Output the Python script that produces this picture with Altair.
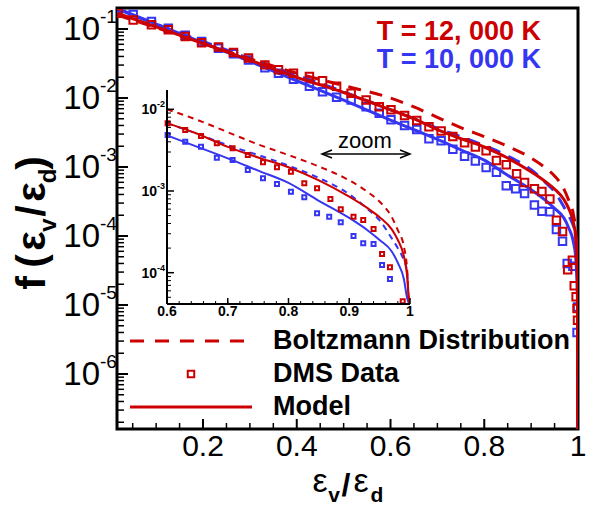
import math
import altair as alt
import pandas as pd

# ---------------- data (log10 of f) ----------------
CURVE_X = [0.017, 0.1, 0.2, 0.3, 0.4, 0.5, 0.6, 0.65, 0.7, 0.75, 0.8, 0.85,
           0.9, 0.93, 0.95, 0.97, 0.98, 0.99, 0.995, 0.999, 1.0]
MODEL_12000 = [-0.77, -0.97, -1.21, -1.45, -1.70, -1.92, -2.17, -2.30, -2.46, -2.59,
               -2.71, -2.87, -3.07, -3.21, -3.32, -3.47, -3.60, -3.80, -4.02, -4.6, -9.0]
MODEL_10000 = [-0.70, -0.93, -1.20, -1.47, -1.75, -2.03, -2.32, -2.46, -2.60, -2.75,
               -2.90, -3.12, -3.33, -3.48, -3.60, -3.74, -3.88, -4.08, -4.30, -5.0, -9.0]
BOLTZ_12000 = [-0.80, -0.98, -1.21, -1.43, -1.64, -1.82, -2.00, -2.13, -2.28, -2.43,
               -2.56, -2.70, -2.87, -3.01, -3.13, -3.32, -3.48, -3.68, -3.93, -4.5, -9.0]
BOLTZ_10000 = [-0.71, -0.93, -1.18, -1.43, -1.67, -1.91, -2.17, -2.30, -2.44, -2.56,
               -2.69, -2.84, -3.04, -3.22, -3.36, -3.58, -3.70, -3.85, -3.97, -4.6, -9.0]

DMS_X_12000 = [0.019, 0.051, 0.090, 0.126, 0.162, 0.197, 0.233, 0.265, 0.297, 0.332,
               0.361, 0.393, 0.427, 0.455, 0.485, 0.516, 0.548, 0.576, 0.601, 0.630,
               0.656, 0.682, 0.708, 0.733, 0.758, 0.781, 0.804, 0.826, 0.847, 0.869,
               0.886, 0.907, 0.923, 0.940, 0.954, 0.967, 0.978, 0.988, 0.992, 0.996,
               0.998, 0.999]
DMS_12000 = [-0.772, -0.87, -0.94, -1.01, -1.11, -1.20, -1.26, -1.34, -1.42, -1.52,
             -1.59, -1.64, -1.69, -1.75, -1.83, -1.93, -2.03, -2.126, -2.171, -2.253,
             -2.327, -2.416, -2.477, -2.559, -2.649, -2.71, -2.763, -2.906, -2.967, -3.098,
             -3.224, -3.314, -3.355, -3.465, -3.771, -3.934, -4.49, -4.35, -4.72, -4.88,
             -5.05, -5.22]
DMS_X_10000 = [0.019, 0.051, 0.090, 0.126, 0.162, 0.197, 0.233, 0.265, 0.297, 0.332,
               0.361, 0.393, 0.427, 0.455, 0.485, 0.516, 0.548, 0.576, 0.601, 0.630,
               0.656, 0.682, 0.708, 0.733, 0.758, 0.781, 0.804, 0.826, 0.847, 0.867,
               0.886, 0.907, 0.923, 0.940, 0.954, 0.967, 0.977, 0.989, 0.999, 0.998]
DMS_10000 = [-0.70, -0.79, -0.89, -0.99, -1.09, -1.18, -1.28, -1.36, -1.45, -1.56,
             -1.64, -1.73, -1.83, -1.91, -1.99, -2.03, -2.126, -2.22, -2.316, -2.397,
             -2.458, -2.592, -2.62, -2.743, -2.845, -2.914, -3.008, -3.077, -3.273, -3.314,
             -3.383, -3.551, -3.64, -3.649, -3.906, -4.077, -4.40, -4.44, -5.03, -5.40]

MAIN_X_TICKS = [0.2, 0.4, 0.6, 0.8, 1.0]
MAIN_X_LABELS = ["0.2", "0.4", "0.6", "0.8", "1"]
MAIN_Y_DECADES = [-1, -2, -3, -4, -5, -6]
INSET_X_TICKS = [0.6, 0.7, 0.8, 0.9, 1.0]
INSET_X_LABELS = ["0.6", "0.7", "0.8", "0.9", "1"]
INSET_Y_DECADES = [-2, -3, -4]
LEGEND_LABELS = ["Boltzmann Distribution", "DMS Data", "Model"]
TEMP_LABELS = ["T = 12, 000 K", "T = 10, 000 K"]

# ---------------- layout ----------------
OX, OY = 117, 8          # plot origin in the page
W, H = 461, 421          # main plot area
RED = "#CC0000"
BLUE = "#3535F2"
FONT = "Liberation Sans"

MAIN_LOG = (-6.797, -0.6957)
IN_LOG = (-4.383, -1.764)
XMAIN = alt.Scale(domain=[0.0165, 1.0], nice=False, zero=False)
YMAIN = alt.Scale(type="log", domain=[10 ** MAIN_LOG[0], 10 ** MAIN_LOG[1]], nice=False)
XIN = alt.Scale(domain=[0.6, 1.0], range=[167 - OX, 410 - OX], nice=False, zero=False, clamp=True)
YIN = alt.Scale(type="log", domain=[10 ** IN_LOG[0], 10 ** IN_LOG[1]],
                range=[304 - OY, 90 - OY], nice=False, clamp=True)
ONE = pd.DataFrame({"a": [0]})


def curve(xs, logs, scx, scy, color, width, dash=None, xmin=None):
    rows = [(x, 10 ** v) for x, v in zip(xs, logs) if xmin is None or x >= xmin - 1e-9]
    df = pd.DataFrame(rows, columns=["x", "y"])
    kw = dict(color=color, strokeWidth=width, interpolate="monotone", clip=True)
    if dash:
        kw["strokeDash"] = dash
    return alt.Chart(df).mark_line(**kw).encode(
        x=alt.X("x:Q", scale=scx, axis=None),
        y=alt.Y("y:Q", scale=scy, axis=None),
        order="x:Q")


def squares(xs, logs, scx, scy, color, size, sw, xmin=None, lmin=None):
    rows = [(x, 10 ** v) for x, v in zip(xs, logs)
            if (xmin is None or x >= xmin - 1e-9) and (lmin is None or v >= lmin)]
    df = pd.DataFrame(rows, columns=["x", "y"])
    return alt.Chart(df).mark_point(shape="square", filled=False, color=color, size=size,
                                    strokeWidth=sw, opacity=1, clip=True).encode(
        x=alt.X("x:Q", scale=scx, axis=None),
        y=alt.Y("y:Q", scale=scy, axis=None))


def label(text, x, y, size, color="black", weight="normal", align="center",
          baseline="middle", angle=0):
    kw = dict(text=text, fontSize=size, font=FONT, color=color, fontWeight=weight,
              align=align, baseline=baseline)
    if angle:
        kw["angle"] = angle
    return alt.Chart(ONE).mark_text(**kw).encode(x=alt.value(x - OX), y=alt.value(y - OY))


def yticks(vals, scy, x0, x1, sw):
    df = pd.DataFrame({"v": vals})
    return alt.Chart(df).mark_rule(color="black", strokeWidth=sw).encode(
        y=alt.Y("v:Q", scale=scy, axis=None), x=alt.value(x0), x2=alt.value(x1))


def xticks(vals, scx, y0, y1, sw):
    df = pd.DataFrame({"v": vals})
    return alt.Chart(df).mark_rule(color="black", strokeWidth=sw).encode(
        x=alt.X("v:Q", scale=scx, axis=None), y=alt.value(y0), y2=alt.value(y1))


def seg(x0, y0, x1, y1, color="black", sw=2, dash=None):
    kw = dict(color=color, strokeWidth=sw)
    if dash:
        kw["strokeDash"] = dash
    enc = dict(x=alt.value(x0 - OX), y=alt.value(y0 - OY))
    if x1 != x0:
        enc["x2"] = alt.value(x1 - OX)
    if y1 != y0:
        enc["y2"] = alt.value(y1 - OY)
    return alt.Chart(ONE).mark_rule(**kw).encode(**enc)


# ---------------- main panel ----------------
main_minor_y = [k * 10.0 ** d for d in range(-7, 0) for k in range(2, 10)
                if MAIN_LOG[0] < d + math.log10(k) < MAIN_LOG[1]]
main_minor_x = [round(0.05 * i, 2) for i in range(1, 20)
                if round(0.05 * i, 2) not in (0.2, 0.4, 0.6, 0.8)]

ylab_df = pd.DataFrame({"v": [10.0 ** d for d in MAIN_Y_DECADES],
                        "e": [str(d) for d in MAIN_Y_DECADES]})
ylab_base = alt.Chart(ylab_df).mark_text(text="10", fontSize=33, font=FONT, align="right",
                                         baseline="middle", dy=1).encode(
    y=alt.Y("v:Q", scale=YMAIN, axis=None), x=alt.value(100 - OX))
ylab_exp = alt.Chart(ylab_df).mark_text(fontSize=19, font=FONT, align="left",
                                        baseline="middle", dy=-12).encode(
    y=alt.Y("v:Q", scale=YMAIN, axis=None), x=alt.value(100 - OX), text="e:N")

xlab_df = pd.DataFrame({"v": MAIN_X_TICKS, "t": MAIN_X_LABELS})
xlab = alt.Chart(xlab_df).mark_text(fontSize=30, font=FONT, align="center",
                                    baseline="middle").encode(
    x=alt.X("v:Q", scale=XMAIN, axis=None), y=alt.value(447 - OY), text="t:N")

main_layers = [
    curve(CURVE_X, BOLTZ_10000, XMAIN, YMAIN, BLUE, 3, dash=[13, 9]),
    curve(CURVE_X, MODEL_10000, XMAIN, YMAIN, BLUE, 3),
    squares(DMS_X_10000, DMS_10000, XMAIN, YMAIN, BLUE, 56, 2),
    curve(CURVE_X, BOLTZ_12000, XMAIN, YMAIN, RED, 3, dash=[13, 9]),
    curve(CURVE_X, MODEL_12000, XMAIN, YMAIN, RED, 3),
    squares(DMS_X_12000, DMS_12000, XMAIN, YMAIN, RED, 56, 2),
    yticks([10.0 ** d for d in MAIN_Y_DECADES], YMAIN, 0, 11, 2),
    yticks(main_minor_y, YMAIN, 0, 7, 1.5),
    xticks(MAIN_X_TICKS[:-1], XMAIN, H, H - 10, 2),
    xticks(main_minor_x, XMAIN, H, H - 6, 1.5),
    ylab_base, ylab_exp, xlab,
    # y title
    label("f", 45, 283, 41, weight="bold", baseline="alphabetic", angle=270),
    label("(", 45, 261, 41, weight="bold", baseline="alphabetic", angle=270),
    label("ε", 45, 241, 41, weight="bold", baseline="alphabetic", angle=270),
    label("v", 56, 225, 24, weight="bold", baseline="alphabetic", angle=270),
    label("/", 45, 211, 41, weight="bold", baseline="alphabetic", angle=270),
    label("ε", 45, 192, 41, weight="bold", baseline="alphabetic", angle=270),
    label("d", 56, 176, 24, weight="bold", baseline="alphabetic", angle=270),
    label(")", 45, 163, 41, weight="bold", baseline="alphabetic", angle=270),
    # x title
    label("ε", 320, 492, 34, baseline="alphabetic"),
    label("v", 334, 502, 21, weight="bold", baseline="alphabetic"),
    label("/", 346, 496, 32, weight="bold", baseline="alphabetic"),
    label("ε", 361, 492, 34, baseline="alphabetic"),
    label("d", 377, 502, 21, weight="bold", baseline="alphabetic"),
    # temperature labels
    label(TEMP_LABELS[0], 541, 32, 27, color=RED, weight="bold", align="right"),
    label(TEMP_LABELS[1], 541, 60, 27, color=BLUE, weight="bold", align="right"),
    # legend
    seg(130, 341, 251, 341, color=RED, sw=3, dash=[14, 11]),
    alt.Chart(ONE).mark_point(shape="square", filled=False, color=RED, size=42,
                              strokeWidth=2, opacity=1).encode(
        x=alt.value(191 - OX), y=alt.value(374 - OY)),
    seg(130, 407, 252, 407, color=RED, sw=3),
    label(LEGEND_LABELS[0], 273, 341, 27, weight="bold", align="left"),
    label(LEGEND_LABELS[1], 273, 374, 27, weight="bold", align="left"),
    label(LEGEND_LABELS[2], 273, 407, 27, weight="bold", align="left"),
]
main = alt.layer(*main_layers)

# ---------------- inset panel ----------------
in_minor_y = [k * 10.0 ** d for d in range(-5, -1) for k in range(2, 10)
              if IN_LOG[0] < d + math.log10(k) < IN_LOG[1]]
in_minor_x = [round(0.6 + 0.02 * i, 2) for i in range(1, 20)]

iylab_df = pd.DataFrame({"v": [10.0 ** d for d in INSET_Y_DECADES],
                         "e": [str(d) for d in INSET_Y_DECADES]})
iylab_base = alt.Chart(iylab_df).mark_text(text="10", fontSize=14, font=FONT, fontWeight="bold",
                                           align="right", baseline="middle", dy=1).encode(
    y=alt.Y("v:Q", scale=YIN, axis=None), x=alt.value(157 - OX))
iylab_exp = alt.Chart(iylab_df).mark_text(fontSize=9, font=FONT, fontWeight="bold",
                                          align="left", baseline="middle", dy=-5).encode(
    y=alt.Y("v:Q", scale=YIN, axis=None), x=alt.value(157 - OX), text="e:N")
ixlab_df = pd.DataFrame({"v": INSET_X_TICKS, "t": INSET_X_LABELS})
ixlab = alt.Chart(ixlab_df).mark_text(fontSize=14, font=FONT, fontWeight="bold",
                                      align="center", baseline="middle").encode(
    x=alt.X("v:Q", scale=XIN, axis=None), y=alt.value(312 - OY), text="t:N")

LMIN = IN_LOG[0]
inset_layers = [
    curve(CURVE_X, BOLTZ_10000, XIN, YIN, BLUE, 2, dash=[6, 5], xmin=0.6),
    curve(CURVE_X, MODEL_10000, XIN, YIN, BLUE, 2, xmin=0.6),
    squares(DMS_X_10000, DMS_10000, XIN, YIN, BLUE, 16, 2, xmin=0.6, lmin=LMIN),
    curve(CURVE_X, BOLTZ_12000, XIN, YIN, RED, 2, dash=[6, 5], xmin=0.6),
    curve(CURVE_X, MODEL_12000, XIN, YIN, RED, 2, xmin=0.6),
    squares(DMS_X_12000, DMS_12000, XIN, YIN, RED, 16, 2, xmin=0.6, lmin=LMIN),
    seg(167, 90, 167, 304, sw=2),
    seg(167, 304, 410, 304, sw=2),
    yticks([10.0 ** d for d in INSET_Y_DECADES], YIN, 167 - OX, 174 - OX, 1.5),
    yticks(in_minor_y, YIN, 167 - OX, 171 - OX, 1),
    xticks(INSET_X_TICKS, XIN, 304 - OY, 298 - OY, 1.5),
    xticks(in_minor_x, XIN, 304 - OY, 301 - OY, 1),
    iylab_base, iylab_exp, ixlab,
    # zoom annotation
    label("zoom", 365, 148, 22, baseline="alphabetic"),
    seg(323, 154, 409, 154, sw=1.5),
    alt.Chart(ONE).mark_point(shape="M2,-0.8L0,0L2,0.8", filled=False, color="black",
                              size=100, strokeWidth=1.5, opacity=1).encode(
        x=alt.value(322 - OX), y=alt.value(154 - OY)),
    alt.Chart(ONE).mark_point(shape="M-2,-0.8L0,0L-2,0.8", filled=False, color="black",
                              size=100, strokeWidth=1.5, opacity=1).encode(
        x=alt.value(410 - OX), y=alt.value(154 - OY)),
]
inset = alt.layer(*inset_layers)

chart = alt.layer(main, inset).resolve_scale(x="independent", y="independent").properties(
    width=W, height=H,
    autosize=alt.AutoSizeParams(type="none"),
    padding={"left": OX, "top": OY, "right": 590 - OX - W, "bottom": 506 - OY - H},
    background="white",
).configure_view(stroke="black", strokeWidth=3)

chart.save("out.html", embed_options={"renderer": "svg", "actions": False})
